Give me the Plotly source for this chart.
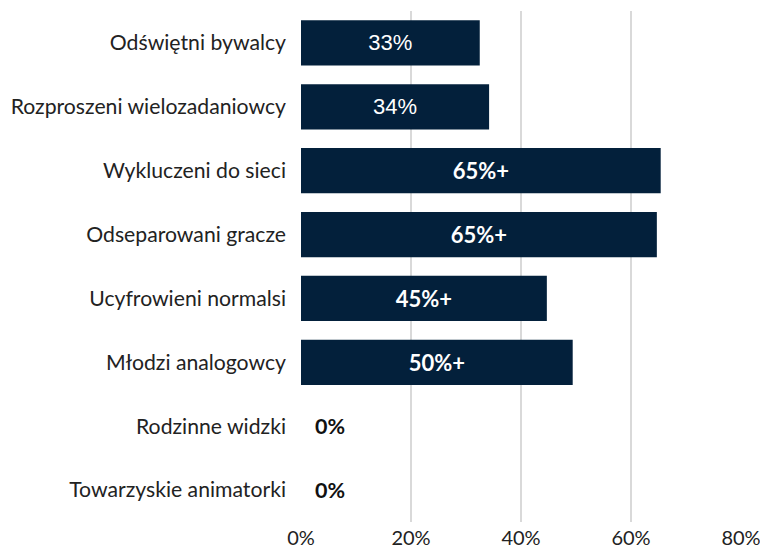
import plotly.graph_objects as go

categories = ["Odświętni bywalcy", "Rozproszeni wielozadaniowcy", "Wykluczeni do sieci",
              "Odseparowani gracze", "Ucyfrowieni normalsi", "Młodzi analogowcy",
              "Rodzinne widzki", "Towarzyskie animatorki"]
values = [32.5, 34.2, 65.4, 64.7, 44.7, 49.4, 0, 0]
labels = ["33%", "34%", "65%+", "65%+", "45%+", "50%+", "0%", "0%"]
label_bold = [False, False, True, True, True, True, True, True]
tick_vals = [0, 20, 40, 60, 80]
tick_text = ["0%", "20%", "40%", "60%", "80%"]

BAR = "#03203b"

inside_text = []
fams = []
for v, l, b in zip(values, labels, label_bold):
    if v > 0:
        inside_text.append(f"<b>{l}</b>" if b else l)
    else:
        inside_text.append("")
    fams.append("Lato" if b else "Liberation Sans")

fig = go.Figure(go.Bar(
    x=values, y=categories, orientation="h",
    marker=dict(color=BAR, line=dict(width=0)),
    text=inside_text, textposition="inside", insidetextanchor="middle",
    textfont=dict(color="white", size=22, family=fams),
    hoverinfo="skip",
))

for v, l, c in zip(values, labels, categories):
    if v == 0:
        fig.add_annotation(x=v, y=c, text=f"<b>{l}</b>", showarrow=False,
                           xanchor="left", xshift=12,
                           font=dict(family="Lato", size=21.5, color="#111111"))

# page body has an 8px default margin, so the figure is sized to fit the window
fig.update_layout(
    width=760, height=539,
    margin=dict(l=293, r=27, t=3, b=25, autoexpand=False),
    plot_bgcolor="white", paper_bgcolor="white",
    bargap=0.29,
    showlegend=False,
    font=dict(family="Lato", size=21, color="#222222"),
)
fig.update_xaxes(range=[0, 80], tickvals=tick_vals, ticktext=tick_text,
                 showgrid=True, gridcolor="#d9d9d9", gridwidth=2,
                 zeroline=False, showline=False, automargin=False,
                 tickfont=dict(family="Lato", size=20, color="#222222"),
                 ticks="", ticklabelstandoff=2)
fig.update_yaxes(categoryorder="array", categoryarray=categories, autorange="reversed",
                 showgrid=False, zeroline=False, showline=False, ticks="", automargin=False,
                 tickfont=dict(family="Lato", size=21.2, color="#222222"),
                 ticklabelstandoff=14)

fig.write_html("out.html")
